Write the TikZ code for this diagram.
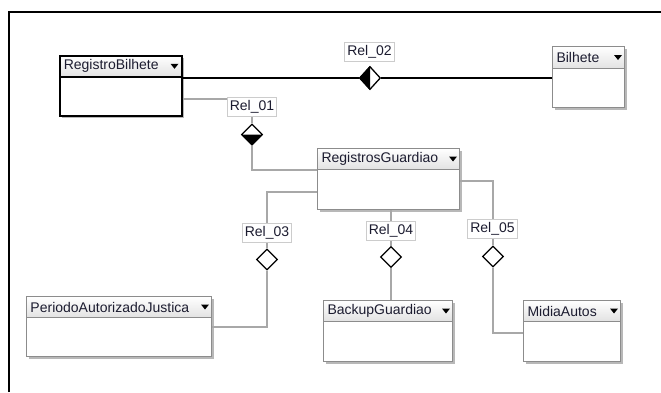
\documentclass[tikz,border=0pt]{standalone}
\usepackage{fontspec}
\setmainfont{Liberation Sans}
\usetikzlibrary{shapes.geometric,shadows}
\definecolor{boxline}{HTML}{8C8C8C}
\definecolor{boxshadow}{HTML}{B8B8B8}
\definecolor{headbottom}{HTML}{E2E2E2}
\definecolor{connline}{HTML}{A8A8A8}
\definecolor{relline}{HTML}{CCCCCC}
\definecolor{umltext}{HTML}{1C1C30}

\tikzset{
  umlfont/.style={font=\fontsize{14pt}{15pt}\selectfont,text=umltext},
  classbox/.style={draw=boxline,fill=white,line width=1pt,anchor=north west,inner sep=0pt,
    drop shadow={shadow xshift=2.5pt,shadow yshift=-2.5pt,fill=boxshadow,opacity=1}},
  classhead/.style={umlfont,draw=boxline,line width=1pt,anchor=north west,top color=white,
    bottom color=headbottom,minimum height=21pt,inner xsep=4pt,inner ysep=0pt,align=left},
  relbox/.style={umlfont,draw=relline,fill=white,line width=0.8pt,inner xsep=2.5pt,
    inner ysep=0pt,minimum height=19pt},
  aggr/.style={diamond,draw=black,fill=white,line width=1.3pt,inner sep=0pt,
    minimum width=21pt,minimum height=21pt},
  conn/.style={draw=connline,line width=1.2pt},
  assoc/.style={draw=black,line width=1.5pt},
  dropmark/.pic={\fill[black] (-4,-2.5) -- (4,-2.5) -- (0,2.5) -- cycle;}
}

\begin{document}
\begin{tikzpicture}[x=1pt,y=-1pt]
\useasboundingbox (0,0) rectangle (661,392);
\draw[line width=2pt] (9,392) -- (9,12) -- (661,12);

\node[classbox,draw=black,line width=1.5pt,minimum width=122,minimum height=60] (rb) at (59,55) {};
\node[classhead,draw=black,line width=1.5pt,text width=114pt] (rbh) at (rb.north west) {RegistroBilhete};
\pic at ([xshift=-8pt]rbh.east) {dropmark};

\node[classbox,minimum width=72,minimum height=61] (bil) at (552,46) {};
\node[classhead,minimum height=22pt,text width=64pt] (bilh) at (bil.north west) {Bilhete};
\pic at ([xshift=-7pt]bilh.east) {dropmark};

\node[classbox,minimum width=142,minimum height=61] (rg) at (317,148) {};
\node[classhead,text width=134pt] (rgh) at (rg.north west) {RegistrosGuardiao};
\pic at ([xshift=-7pt]rgh.east) {dropmark};

\node[classbox,minimum width=185,minimum height=60] (paj) at (26,296) {};
\node[classhead,text width=177pt] (pajh) at (paj.north west) {PeriodoAutorizadoJustica};
\pic at ([xshift=-7pt]pajh.east) {dropmark};

\node[classbox,minimum width=129,minimum height=61] (bg) at (323,300) {};
\node[classhead,text width=121pt] (bgh) at (bg.north west) {BackupGuardiao};
\pic at ([xshift=-7pt]bgh.east) {dropmark};

\node[classbox,minimum width=97,minimum height=61] (ma) at (523,300) {};
\node[classhead,text width=89pt] (mah) at (ma.north west) {MidiaAutos};
\pic at ([xshift=-7pt]mah.east) {dropmark};

\node[aggr,minimum height=23pt] (d2) at (370,78) {};
\fill[black] (d2.north) -- (d2.west) -- (d2.south) -- cycle;
\node[aggr] (d1) at (252,134.5) {};
\fill[black] (d1.west) -- (d1.south) -- (d1.east) -- cycle;
\node[aggr] (d3) at (267,259.5) {};
\node[aggr] (d4) at (391,257) {};
\node[aggr] (d5) at (493,256.5) {};

\draw[assoc] (rb.east |- d2) -- (d2.west);
\draw[assoc] (d2.east) -- (bil.west |- d2);

\coordinate (j1) at (252,99);
\draw[conn] (rb.east |- j1) -- (j1) -- (d1.north);
\draw[conn] (d1.south) |- ([yshift=-22pt]rg.north west);

\draw[conn] ([yshift=-44pt]rg.north west) -| (d3.north);
\draw[conn] (d3.south) |- ([yshift=-31pt]paj.north east);

\draw[conn] (rg.south -| d4) -- (d4.north);
\draw[conn] (d4.south) -- (bg.north -| d4);

\draw[conn] ([yshift=-33pt]rg.north east) -| (d5.north);
\draw[conn] (d5.south) |- ([yshift=-33pt]ma.north west);

\node[relbox] (r2) at (369.5,51.5) {Rel\_02};
\node[relbox] (r1) at (252,107) {Rel\_01};
\node[relbox] (r3) at (267,232.5) {Rel\_03};
\node[relbox] (r4) at (391,230.5) {Rel\_04};
\node[relbox] (r5) at (492.5,229) {Rel\_05};
\end{tikzpicture}
\end{document}
